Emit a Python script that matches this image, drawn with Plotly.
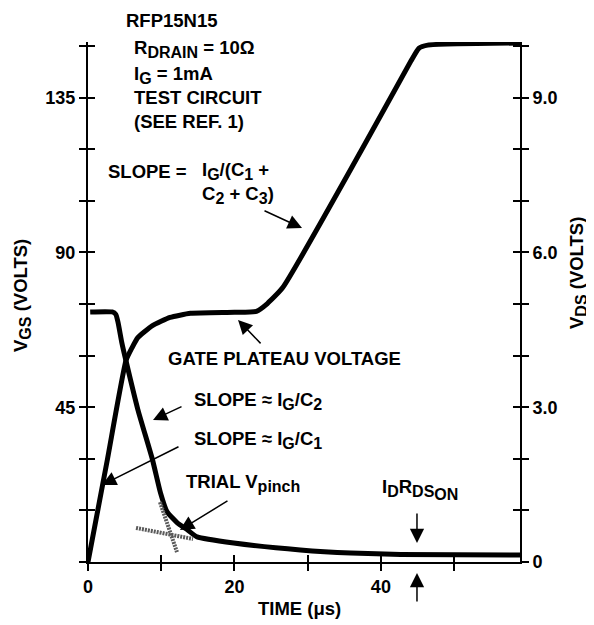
import plotly.graph_objects as go

# ---- data ----
# falling curve (left axis scale, 0-150)
time_a = [0.3, 3.3, 3.8, 4.1, 4.6, 5.2, 6.8, 8.8, 9.9, 10.8, 12.2, 13.6, 14.9, 19.9, 29.0, 35.9, 42.7, 59.0]
curve_a = [72.7, 72.7, 72.0, 69.7, 64.0, 58.4, 44.4, 29.8, 20.1, 14.6, 11.4, 9.3, 7.3, 5.5, 3.5, 2.6, 2.2, 2.0]

# rising curve (right axis scale, 0-10)
time_b = [0.0, 2.6, 5.2, 6.0, 6.8, 8.8, 11.2, 14.0, 20.0, 23.0, 24.5, 26.6, 37.3, 44.1, 45.2, 46.4, 59.0]
curve_b = [0.0, 1.95, 3.91, 4.15, 4.35, 4.58, 4.74, 4.82, 4.84, 4.86, 5.01, 5.32, 7.97, 9.71, 9.96, 10.02, 10.06]

# trial V_pinch construction lines (left axis scale)
pinch_a_t = [9.83, 12.15]
pinch_a_v = [17.4, 2.9]
pinch_b_t = [6.56, 14.34]
pinch_b_v = [9.9, 6.7]

x_ticks = [0, 10, 20, 30, 40, 50]
x_labels = ["0", "", "20", "", "40", ""]
yl_ticks = [0, 15, 30, 45, 60, 75, 90, 105, 120, 135, 150]
yl_labels = ["", "", "", "45", "", "", "90", "", "", "135", ""]
yr_ticks = [0, 1, 2, 3, 4, 5, 6, 7, 8, 9, 10]
yr_labels = ["0", "", "", "3.0", "", "", "6.0", "", "", "9.0", ""]

X_RANGE = [0, 59]
YL_RANGE = [0, 151.2]
YR_RANGE = [0, 10.08]

FONT = "Liberation Sans, Arial, Helvetica, sans-serif"
FS = 18.5
SUBFS = 16


def sub(s):
    return '<sub><span style="font-size:%dpx">%s</span></sub>' % (SUBFS, s)


fig = go.Figure()
fig.add_trace(go.Scatter(x=time_a, y=curve_a, mode="lines", xaxis="x", yaxis="y",
                         line=dict(color="black", width=5, shape="spline", smoothing=0.5),
                         hoverinfo="skip", showlegend=False))
fig.add_trace(go.Scatter(x=time_b, y=curve_b, mode="lines", xaxis="x", yaxis="y2",
                         line=dict(color="black", width=5, shape="spline", smoothing=0.5),
                         hoverinfo="skip", showlegend=False))
for tt, vv in [(pinch_a_t, pinch_a_v), (pinch_b_t, pinch_b_v)]:
    fig.add_trace(go.Scatter(x=tt, y=vv, mode="lines", xaxis="x", yaxis="y",
                             line=dict(color="#5a5a5a", width=4, dash="2px,1px"),
                             hoverinfo="skip", showlegend=False))
# empty traces to create the overlay axes used for inward tick halves
fig.add_trace(go.Scatter(x=[], y=[], xaxis="x2", yaxis="y3", showlegend=False, hoverinfo="skip"))
fig.add_trace(go.Scatter(x=[], y=[], xaxis="x2", yaxis="y4", showlegend=False, hoverinfo="skip"))

tickfont = dict(family=FONT, size=18, color="black", weight="bold")
common = dict(showgrid=False, zeroline=False, tickcolor="black", tickwidth=2, ticklen=7)

fig.update_layout(
    width=594, height=625,
    margin=dict(l=80, r=82, t=34, b=71),
    paper_bgcolor="white", plot_bgcolor="white",
    font=dict(family=FONT, size=FS, color="black", weight="bold"),
    xaxis=dict(range=X_RANGE, tickmode="array", tickvals=x_ticks, ticktext=x_labels,
               ticks="outside", showline=True, linecolor="black", linewidth=2,
               tickfont=tickfont, anchor="y", **common),
    xaxis2=dict(range=X_RANGE, overlaying="x", anchor="y", tickmode="array", tickvals=x_ticks,
                ticks="inside", showticklabels=False, showline=False, **common),
    yaxis=dict(range=YL_RANGE, tickmode="array", tickvals=yl_ticks, ticktext=yl_labels,
               ticks="outside", showline=True, linecolor="black", linewidth=2, side="left",
               tickfont=tickfont, anchor="x", **common),
    yaxis2=dict(range=YR_RANGE, tickmode="array", tickvals=yr_ticks, ticktext=yr_labels,
                ticks="outside", showline=True, linecolor="black", linewidth=2, side="right",
                overlaying="y", anchor="x", tickfont=tickfont, **common),
    yaxis3=dict(range=YL_RANGE, tickmode="array", tickvals=yl_ticks, ticks="inside",
                showticklabels=False, showline=False, side="left", overlaying="y",
                anchor="x2", **common),
    yaxis4=dict(range=YR_RANGE, tickmode="array", tickvals=yr_ticks, ticks="inside",
                showticklabels=False, showline=False, side="right", overlaying="y",
                anchor="x2", **common),
)

# ---- text annotations (paper coordinates) ----
texts = [
    ("RFP15N15", 0.1944, 1.0423, "center", 0),
    ("R" + sub("DRAIN") + " = 10Ω", 0.1019, 0.9865, "left", 0),
    ("I" + sub("G") + " = 1mA", 0.1019, 0.9365, "left", 0),
    ("TEST CIRCUIT", 0.1019, 0.8942, "left", 0),
    ("(SEE REF. 1)", 0.1019, 0.8462, "left", 0),
    ("SLOPE =", 0.0417, 0.7519, "left", 0),
    ("I" + sub("G") + "/(C" + sub("1") + " +", 0.2593, 0.7519, "left", 0),
    ("C" + sub("2") + " + C" + sub("3") + ")", 0.2593, 0.7058, "left", 0),
    ("GATE PLATEAU VOLTAGE", 0.1806, 0.3904, "left", 0),
    ("SLOPE ≈ I" + sub("G") + "/C" + sub("2"), 0.2407, 0.3096, "left", 0),
    ("SLOPE ≈ I" + sub("G") + "/C" + sub("1"), 0.2407, 0.2346, "left", 0),
    ("TRIAL V" + sub("pinch"), 0.2222, 0.1519, "left", 0),
    ("I" + sub("D") + "R<sub><span style=\"font-size:%dpx\">DS</span><sub><span style=\"font-size:%dpx\">ON</span></sub></sub>" % (SUBFS, SUBFS),
     0.6759, 0.1385, "left", 0),
    ("TIME (μs)", 0.4907, -0.0885, "center", 0),
    ("V" + sub("GS") + " (VOLTS)", -0.1528, 0.5135, "center", -90),
    ("V" + sub("DS") + " (VOLTS)", 1.1343, 0.5558, "center", -90),
]
for txt, xp, yp, xa, ang in texts:
    fig.add_annotation(text=txt, x=xp, y=yp, xref="paper", yref="paper",
                       xanchor=xa, yanchor="middle", showarrow=False, textangle=ang,
                       font=dict(family=FONT, size=FS, color="black", weight="bold"))

# ---- arrows: head in data coords, tail as pixel offset ----
arrows = [
    (29.23, 97.1, -39, -18),
    (20.49, 70.4, 24, 25),
    (8.88, 41.3, 30, -14),
    (1.91, 22.4, 78, -39),
    (12.56, 9.3, 49, -30),
    (44.93, 5.5, 0, -31),
]
for hx, hy, ax, ay in arrows:
    fig.add_annotation(text="", x=hx, y=hy, xref="x", yref="y", ax=ax, ay=ay,
                       showarrow=True, arrowhead=2, arrowsize=1.9, arrowwidth=1.5,
                       arrowcolor="black", font=dict(size=1))
fig.add_annotation(text="", x=44.93, y=-0.0212, xref="x", yref="paper", ax=0, ay=30,
                   showarrow=True, arrowhead=2, arrowsize=1.9, arrowwidth=1.5,
                   arrowcolor="black", font=dict(size=1))

fig.write_html("out.html")
